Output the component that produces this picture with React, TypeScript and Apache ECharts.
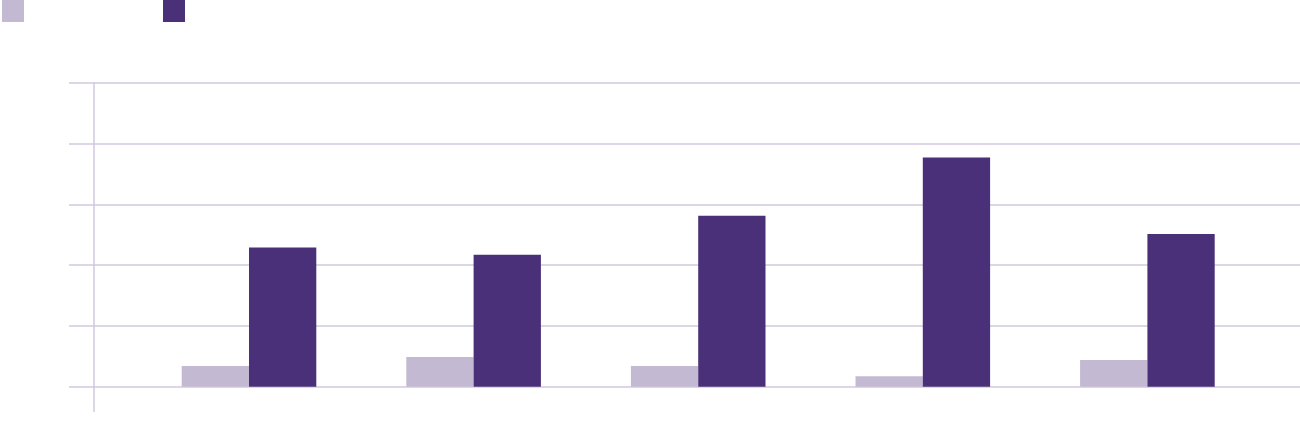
import React, { useEffect, useRef } from "react";
import * as echarts from "echarts";

const categories = ["Category 1", "Category 2", "Category 3", "Category 4", "Category 5"];
const seriesNames = ["Series 1", "Series 2"];
const lightValues = [0.34, 0.49, 0.34, 0.17, 0.44];
const darkValues = [2.29, 2.17, 2.81, 3.77, 2.51];
const yMin = 0;
const yMax = 5;
const yInterval = 1;

const LIGHT = "#C3B9D2";
const DARK = "#4A3079";
const GRID = "#D2C8DF";

export default function App() {
  const ref = useRef<HTMLDivElement>(null);
  useEffect(() => {
    if (!ref.current) return;
    const chart = echarts.init(ref.current, undefined, { renderer: "svg" });
    const gridTop = 82.7;
    const gridHeight = 304;
    chart.setOption({
      animation: false,
      backgroundColor: "#ffffff",
      legend: [
        {
          left: 2,
          top: 0,
          padding: 0,
          icon: "rect",
          itemWidth: 22,
          itemHeight: 22,
          data: [seriesNames[0]],
          formatter: () => "",
          textStyle: { color: "transparent" },
          selectedMode: false,
        },
        {
          left: 163,
          top: 0,
          padding: 0,
          icon: "rect",
          itemWidth: 22,
          itemHeight: 22,
          data: [seriesNames[1]],
          formatter: () => "",
          textStyle: { color: "transparent" },
          selectedMode: false,
        },
      ],
      grid: [
        { left: 94, right: 0, top: gridTop, height: gridHeight },
        { left: 136.7, width: 1123, top: gridTop, height: gridHeight },
      ],
      xAxis: [
        { type: "value", gridIndex: 0, show: false, min: 0, max: 1 },
        {
          type: "category",
          gridIndex: 1,
          data: categories,
          axisLine: { show: false },
          axisTick: { show: false },
          axisLabel: { show: false },
        },
      ],
      yAxis: [
        {
          type: "value",
          gridIndex: 0,
          min: yMin,
          max: yMax,
          interval: yInterval,
          axisLine: { show: true, lineStyle: { color: GRID, width: 1.5 } },
          axisTick: { show: true, length: 25, inside: false, lineStyle: { color: GRID, width: 1.5 } },
          axisLabel: { show: false },
          splitLine: { show: true, lineStyle: { color: GRID, width: 1.5 } },
        },
        {
          type: "value",
          gridIndex: 1,
          min: yMin,
          max: yMax,
          interval: yInterval,
          show: false,
          splitLine: { show: false },
        },
      ],
      graphic: [
        {
          type: "line",
          shape: { x1: 94, y1: gridTop + gridHeight, x2: 94, y2: 412 },
          style: { stroke: GRID, lineWidth: 1.5 },
          silent: true,
        },
      ],
      series: [
        {
          name: seriesNames[0],
          type: "bar",
          xAxisIndex: 1,
          yAxisIndex: 1,
          data: lightValues,
          barWidth: 67.3,
          barGap: "0%",
          itemStyle: { color: LIGHT },
        },
        {
          name: seriesNames[1],
          type: "bar",
          xAxisIndex: 1,
          yAxisIndex: 1,
          data: darkValues,
          barWidth: 67.3,
          barGap: "0%",
          itemStyle: { color: DARK },
        },
      ],
    });
    return () => chart.dispose();
  }, []);
  return <div ref={ref} style={{ width: 1300, height: 444, position: "absolute", left: 0, top: 0 }} />;
}
